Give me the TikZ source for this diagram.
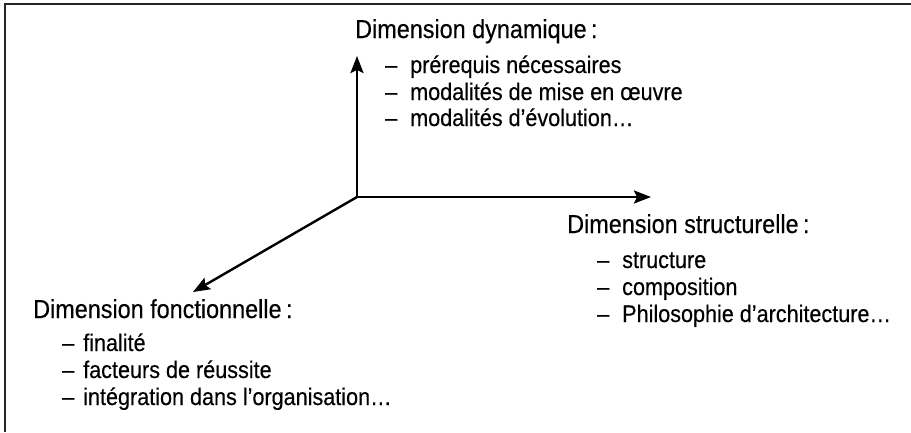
\documentclass[tikz,border=0pt]{standalone}
\usepackage{fontspec}
\setmainfont{Liberation Sans}[FakeStretch=0.9,FakeBold=0.3]
\usetikzlibrary{arrows.meta}
\tikzset{
  axis/.style={line width=2.4pt,-{Stealth[length=17pt,width=13pt,inset=3pt]}},
  frameline/.style={line width=1.6pt,black!85},
  dimtitle/.style={anchor=base west,inner sep=0pt,font=\fontsize{26}{30}\selectfont},
  dimitem/.style={anchor=base west,inner sep=0pt,font=\fontsize{24}{28}\selectfont},
}
\begin{document}
\begin{tikzpicture}[x=1pt,y=-1pt]
\useasboundingbox (0,0) rectangle (911,432);
% frame (top and left edges)
\coordinate (fTL) at (5,4);
\coordinate (fTR) at (911,4);
\coordinate (fBL) at (5,432);
\draw[frameline] (fTR) -- (fTL) -- (fBL);
% axes
\coordinate (O) at (357,197);
\coordinate (up) at (357,56);
\coordinate (right) at (651,197);
\coordinate (down) at (193,292);
\draw[axis] (O) -- (up);
\draw[axis] (O) -- (right);
\draw[axis] (O) -- (down);
% dynamique
\node[dimtitle] (dynT) at (355,38) {Dimension dynamique\,:};
\node[dimitem] (dyn1d) at (385,73) {–};
\node[dimitem] (dyn1) at (410,73) {prérequis nécessaires};
\node[dimitem] (dyn2d) at (385,100) {–};
\node[dimitem] (dyn2) at (410,100) {modalités de mise en œuvre};
\node[dimitem] (dyn3d) at (385,126) {–};
\node[dimitem] (dyn3) at (410,126) {modalités d’évolution…};
% structurelle
\node[dimtitle] (strT) at (567,233) {Dimension structurelle\,:};
\node[dimitem] (str1d) at (597,268) {–};
\node[dimitem] (str1) at (622,268) {structure};
\node[dimitem] (str2d) at (597,295) {–};
\node[dimitem] (str2) at (622,295) {composition};
\node[dimitem] (str3d) at (597,322) {–};
\node[dimitem] (str3) at (622,322) {Philosophie d’architecture…};
% fonctionnelle
\node[dimtitle] (fonT) at (33,318) {Dimension fonctionnelle\,:};
\node[dimitem] (fon1d) at (62,351) {–};
\node[dimitem] (fon1) at (83,351) {finalité};
\node[dimitem] (fon2d) at (62,378) {–};
\node[dimitem] (fon2) at (83,378) {facteurs de réussite};
\node[dimitem] (fon3d) at (62,405) {–};
\node[dimitem] (fon3) at (83,405) {intégration dans l’organisation…};
\end{tikzpicture}
\end{document}
